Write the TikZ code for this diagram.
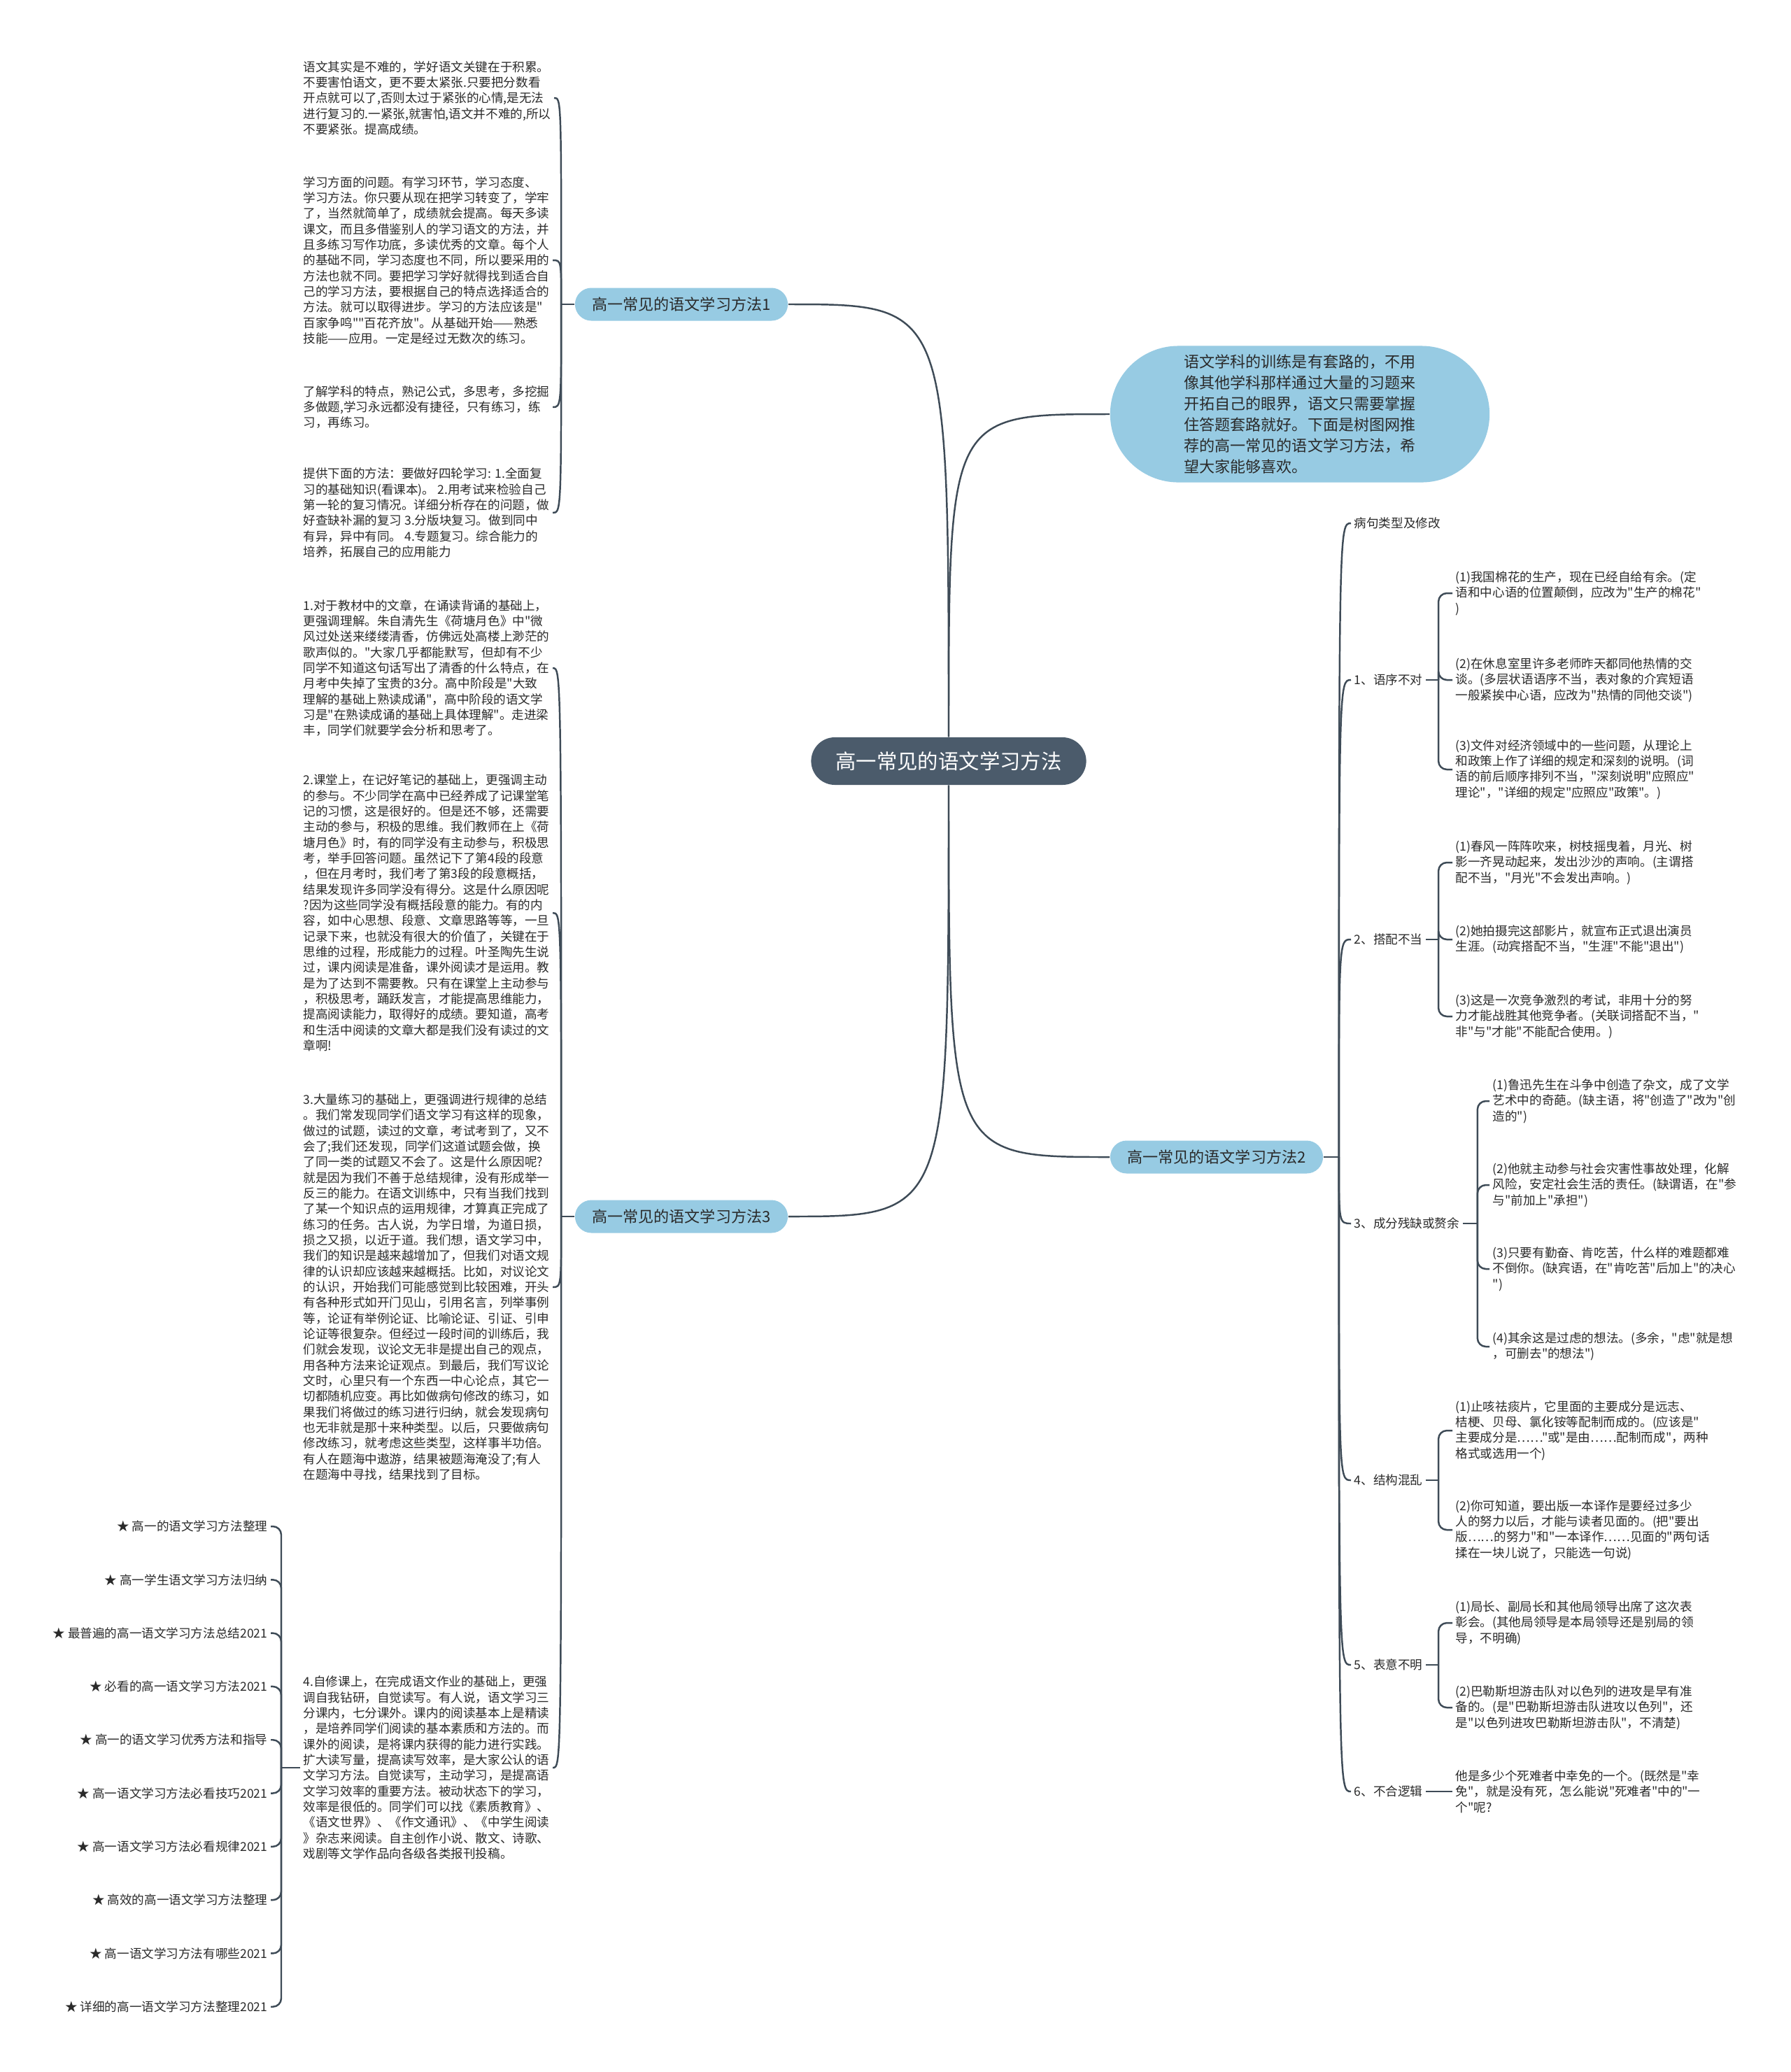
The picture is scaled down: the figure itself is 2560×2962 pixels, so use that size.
\documentclass[tikz,border=0pt]{standalone}
\usepackage{fontspec}
\setmainfont{Noto Sans CJK SC}[Ligatures=TeXOff]
\usepackage{xcolor}
\definecolor{rootfill}{HTML}{4B5B6B}
\definecolor{topicfill}{HTML}{97CBE3}
\definecolor{linecol}{HTML}{3E4B57}
\definecolor{inkcol}{HTML}{2A2A2A}
\begin{document}
\begin{tikzpicture}[x=0.01cm,y=-0.01cm,
  txt/.style={inner xsep=0.04cm,inner ysep=0pt,align=left,text=inkcol,font=\fontsize{5}{6.35}\selectfont},
  root/.style={fill=rootfill,text=white,rounded corners=0.34cm,minimum width=3.93cm,minimum height=0.68cm,inner sep=0pt,font=\fontsize{8.35}{10}\selectfont},
  topic/.style={fill=topicfill,text=inkcol,rounded corners=0.235cm,minimum width=3.04cm,minimum height=0.47cm,inner sep=0pt,font=\fontsize{6.27}{8}\selectfont},
  link/.style={draw=linecol,line width=0.7pt},
  brk/.style={link,rounded corners=0.12cm}]
  \useasboundingbox[fill=white] (0,0) rectangle (2560,2962);

  % main topics
  \node[root] (root) at (1356,1088) {高一常见的语文学习方法};
  \node[topic] (m1) at (974,435) {高一常见的语文学习方法1};
  \node[topic] (m2) at (1739,1654) {高一常见的语文学习方法2};
  \node[topic] (m3) at (974,1739) {高一常见的语文学习方法3};
  \node[fill=topicfill,text=inkcol,rounded corners=0.975cm,minimum width=5.42cm,minimum height=1.95cm,inner sep=0pt,align=left,font=\fontsize{6.27}{8.5}\selectfont] (intro) at (1858,592) {语文学科的训练是有套路的，不用\\像其他学科那样通过大量的习题来\\开拓自己的眼界，语文只需要掌握\\住答题套路就好。下面是树图网推\\荐的高一常见的语文学习方法，希\\望大家能够喜欢。};

  \draw[link] (root.north) .. controls (root.north |- m1.east) .. (m1.east);
  \draw[link] (root.north) .. controls (root.north |- intro.west) .. (intro.west);
  \draw[link] (root.south) .. controls (root.south |- m2.west) .. (m2.west);
  \draw[link] (root.south) .. controls (root.south |- m3.east) .. (m3.east);

  % method 1
  \node[txt,anchor=west] (a1) at (429,140) {语文其实是不难的，学好语文关键在于积累。\\不要害怕语文，更不要太紧张.只要把分数看\\开点就可以了,否则太过于紧张的心情,是无法\\进行复习的.一紧张,就害怕,语文并不难的,所以\\不要紧张。提高成绩。};
  \node[txt,anchor=west] (a2) at (429,372) {学习方面的问题。有学习环节，学习态度、\\学习方法。你只要从现在把学习转变了，学牢\\了，当然就简单了，成绩就会提高。每天多读\\课文，而且多借鉴别人的学习语文的方法，并\\且多练习写作功底，多读优秀的文章。每个人\\的基础不同，学习态度也不同，所以要采用的\\方法也就不同。要把学习学好就得找到适合自\\己的学习方法，要根据自己的特点选择适合的\\方法。就可以取得进步。学习的方法应该是"\\百家争鸣""百花齐放"。从基础开始——熟悉\\技能——应用。一定是经过无数次的练习。};
  \node[txt,anchor=west] (a3) at (429,582) {了解学科的特点，熟记公式，多思考，多挖掘\\多做题,学习永远都没有捷径，只有练习，练\\习，再练习。};
  \node[txt,anchor=west] (a4) at (429,733) {提供下面的方法：要做好四轮学习: 1.全面复\\习的基础知识(看课本)。 2.用考试来检验自己\\第一轮的复习情况。详细分析存在的问题，做\\好查缺补漏的复习 3.分版块复习。做到同中\\有异，异中有同。 4.专题复习。综合能力的\\培养，拓展自己的应用能力};
  \draw[link] (m1.west) -- ++(-19,0) coordinate (m1j);
  \foreach \n in {a1,a2,a3,a4}
    \draw[link] (m1j) .. controls (m1j |- \n.east) .. (\n.east);

  % method 3
  \node[txt,anchor=west] (b1) at (429,955) {1.对于教材中的文章，在诵读背诵的基础上，\\更强调理解。朱自清先生《荷塘月色》中"微\\风过处送来缕缕清香，仿佛远处高楼上渺茫的\\歌声似的。"大家几乎都能默写，但却有不少\\同学不知道这句话写出了清香的什么特点，在\\月考中失掉了宝贵的3分。高中阶段是"大致\\理解的基础上熟读成诵"，高中阶段的语文学\\习是"在熟读成诵的基础上具体理解"。走进梁\\丰，同学们就要学会分析和思考了。};
  \node[txt,anchor=west] (b2) at (429,1305) {2.课堂上，在记好笔记的基础上，更强调主动\\的参与。不少同学在高中已经养成了记课堂笔\\记的习惯，这是很好的。但是还不够，还需要\\主动的参与，积极的思维。我们教师在上《荷\\塘月色》时，有的同学没有主动参与，积极思\\考，举手回答问题。虽然记下了第4段的段意\\，但在月考时，我们考了第3段的段意概括，\\结果发现许多同学没有得分。这是什么原因呢\\?因为这些同学没有概括段意的能力。有的内\\容，如中心思想、段意、文章思路等等，一旦\\记录下来，也就没有很大的价值了，关键在于\\思维的过程，形成能力的过程。叶圣陶先生说\\过，课内阅读是准备，课外阅读才是运用。教\\是为了达到不需要教。只有在课堂上主动参与\\，积极思考，踊跃发言，才能提高思维能力，\\提高阅读能力，取得好的成绩。要知道，高考\\和生活中阅读的文章大都是我们没有读过的文\\章啊!};
  \node[txt,anchor=west] (b3) at (429,1840) {3.大量练习的基础上，更强调进行规律的总结\\。我们常发现同学们语文学习有这样的现象，\\做过的试题，读过的文章，考试考到了，又不\\会了;我们还发现，同学们这道试题会做，换\\了同一类的试题又不会了。这是什么原因呢?\\就是因为我们不善于总结规律，没有形成举一\\反三的能力。在语文训练中，只有当我们找到\\了某一个知识点的运用规律，才算真正完成了\\练习的任务。古人说，为学日增，为道日损，\\损之又损，以近于道。我们想，语文学习中，\\我们的知识是越来越增加了，但我们对语文规\\律的认识却应该越来越概括。比如，对议论文\\的认识，开始我们可能感觉到比较困难，开头\\有各种形式如开门见山，引用名言，列举事例\\等，论证有举例论证、比喻论证、引证、引申\\论证等很复杂。但经过一段时间的训练后，我\\们就会发现，议论文无非是提出自己的观点，\\用各种方法来论证观点。到最后，我们写议论\\文时，心里只有一个东西一中心论点，其它一\\切都随机应变。再比如做病句修改的练习，如\\果我们将做过的练习进行归纳，就会发现病句\\也无非就是那十来种类型。以后，只要做病句\\修改练习，就考虑这些类型，这样事半功倍。\\有人在题海中遨游，结果被题海淹没了;有人\\在题海中寻找，结果找到了目标。};
  \node[txt,anchor=west] (b4) at (429,2527) {4.自修课上，在完成语文作业的基础上，更强\\调自我钻研，自觉读写。有人说，语文学习三\\分课内，七分课外。课内的阅读基本上是精读\\，是培养同学们阅读的基本素质和方法的。而\\课外的阅读，是将课内获得的能力进行实践。\\扩大读写量，提高读写效率，是大家公认的语\\文学习方法。自觉读写，主动学习，是提高语\\文学习效率的重要方法。被动状态下的学习，\\效率是很低的。同学们可以找《素质教育》、\\《语文世界》、《作文通讯》、《中学生阅读\\》杂志来阅读。自主创作小说、散文、诗歌、\\戏剧等文学作品向各级各类报刊投稿。};
  \draw[link] (m3.west) -- ++(-19,0) coordinate (m3j);
  \foreach \n in {b1,b2,b3,b4}
    \draw[link] (m3j) .. controls (m3j |- \n.east) .. (\n.east);

  % related list under point 4
  \foreach \t [count=\i] in {高一的语文学习方法整理,高一学生语文学习方法归纳,最普遍的高一语文学习方法总结2021,必看的高一语文学习方法2021,高一的语文学习优秀方法和指导,高一语文学习方法必看技巧2021,高一语文学习方法必看规律2021,高效的高一语文学习方法整理,高一语文学习方法有哪些2021,详细的高一语文学习方法整理2021}
    \node[txt,anchor=east] (s\i) at (387,{2182+76.3*(\i-1)}) {★ \t};
  \draw[link] (b4.west) -- ++(-27,0) coordinate (b4j);
  \foreach \i in {1,...,10}
    \draw[brk] (b4j) |- (s\i.east);

  % method 2
  \node[txt,anchor=west] (cat) at (1931,748) {病句类型及修改};
  \node[txt,anchor=west] (g1) at (1931,972) {1、语序不对};
  \node[txt,anchor=west] (g2) at (1931,1343) {2、搭配不当};
  \node[txt,anchor=west] (g3) at (1931,1749) {3、成分残缺或赘余};
  \node[txt,anchor=west] (g4) at (1931,2116) {4、结构混乱};
  \node[txt,anchor=west] (g5) at (1931,2380) {5、表意不明};
  \node[txt,anchor=west] (g6) at (1931,2561) {6、不合逻辑};
  \draw[link] (m2.east) -- ++(22,0) coordinate (m2j);
  \foreach \n in {cat,g1,g2,g3,g4,g5,g6}
    \draw[link] (m2j) .. controls (m2j |- \n.west) .. (\n.west);

  \node[txt,anchor=west] (g1-1) at (2076,848) {(1)我国棉花的生产，现在已经自给有余。(定\\语和中心语的位置颠倒，应改为"生产的棉花"\\)};
  \node[txt,anchor=west] (g1-2) at (2076,972) {(2)在休息室里许多老师昨天都同他热情的交\\谈。(多层状语语序不当，表对象的介宾短语\\一般紧挨中心语，应改为"热情的同他交谈")};
  \node[txt,anchor=west] (g1-3) at (2076,1100) {(3)文件对经济领域中的一些问题，从理论上\\和政策上作了详细的规定和深刻的说明。(词\\语的前后顺序排列不当，"深刻说明"应照应"\\理论"，"详细的规定"应照应"政策"。)};

  \node[txt,anchor=west] (g2-1) at (2076,1233) {(1)春风一阵阵吹来，树枝摇曳着，月光、树\\影一齐晃动起来，发出沙沙的声响。(主谓搭\\配不当，"月光"不会发出声响。)};
  \node[txt,anchor=west] (g2-2) at (2076,1343) {(2)她拍摄完这部影片，就宣布正式退出演员\\生涯。(动宾搭配不当，"生涯"不能"退出")};
  \node[txt,anchor=west] (g2-3) at (2076,1453) {(3)这是一次竞争激烈的考试，非用十分的努\\力才能战胜其他竞争者。(关联词搭配不当，"\\非"与"才能"不能配合使用。)};

  \node[txt,anchor=west] (g3-1) at (2129,1574) {(1)鲁迅先生在斗争中创造了杂文，成了文学\\艺术中的奇葩。(缺主语，将"创造了"改为"创\\造的")};
  \node[txt,anchor=west] (g3-2) at (2129,1694) {(2)他就主动参与社会灾害性事故处理，化解\\风险，安定社会生活的责任。(缺谓语，在"参\\与"前加上"承担")};
  \node[txt,anchor=west] (g3-3) at (2129,1814) {(3)只要有勤奋、肯吃苦，什么样的难题都难\\不倒你。(缺宾语，在"肯吃苦"后加上"的决心\\")};
  \node[txt,anchor=west] (g3-4) at (2129,1925) {(4)其余这是过虑的想法。(多余，"虑"就是想\\，可删去"的想法")};

  \node[txt,anchor=west] (g4-1) at (2076,2045) {(1)止咳祛痰片，它里面的主要成分是远志、\\桔梗、贝母、氯化铵等配制而成的。(应该是"\\主要成分是……"或"是由……配制而成"，两种\\格式或选用一个)};
  \node[txt,anchor=west] (g4-2) at (2076,2187) {(2)你可知道，要出版一本译作是要经过多少\\人的努力以后，才能与读者见面的。(把"要出\\版……的努力"和"一本译作……见面的"两句话\\揉在一块儿说了，只能选一句说)};

  \node[txt,anchor=west] (g5-1) at (2076,2320) {(1)局长、副局长和其他局领导出席了这次表\\彰会。(其他局领导是本局领导还是别局的领\\导，不明确)};
  \node[txt,anchor=west] (g5-2) at (2076,2441) {(2)巴勒斯坦游击队对以色列的进攻是早有准\\备的。(是"巴勒斯坦游击队进攻以色列"，还\\是"以色列进攻巴勒斯坦游击队"，不清楚)};

  \node[txt,anchor=west] (g6-1) at (2076,2561) {他是多少个死难者中幸免的一个。(既然是"幸\\免"，就是没有死，怎么能说"死难者"中的"一\\个"呢?};

  \draw[brk] (g1.east) -- ++(18,0) coordinate (g1j);
  \foreach \k in {1,2,3} \draw[brk] (g1j) |- (g1-\k.west);
  \draw[brk] (g2.east) -- ++(18,0) coordinate (g2j);
  \foreach \k in {1,2,3} \draw[brk] (g2j) |- (g2-\k.west);
  \draw[brk] (g3.east) -- ++(21,0) coordinate (g3j);
  \foreach \k in {1,2,3,4} \draw[brk] (g3j) |- (g3-\k.west);
  \draw[brk] (g4.east) -- ++(18,0) coordinate (g4j);
  \foreach \k in {1,2} \draw[brk] (g4j) |- (g4-\k.west);
  \draw[brk] (g5.east) -- ++(18,0) coordinate (g5j);
  \foreach \k in {1,2} \draw[brk] (g5j) |- (g5-\k.west);
  \draw[link] (g6.east) -- (g6-1.west);
\end{tikzpicture}
\end{document}
